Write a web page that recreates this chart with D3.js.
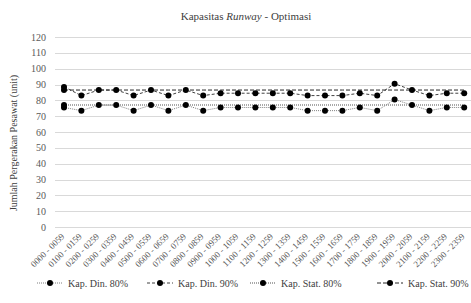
<!DOCTYPE html>
<html>
<head>
<meta charset="utf-8">
<script src="https://cdn.jsdelivr.net/npm/d3@7"></script>
<style>
  body { margin: 0; background: #fff; }
</style>
</head>
<body>
<svg width="471" height="303" font-family="'Liberation Serif', 'Times New Roman', serif"></svg>
<script>
// categories (hour slots)
const slots = ["0000 - 0059", "0100 - 0159", "0200 - 0259", "0300 - 0359", "0400 - 0459", "0500 - 0559",
    "0600 - 0659", "0700 - 0759", "0800 - 0859", "0900 - 0959", "1000 - 1059", "1100 - 1159",
    "1200 - 1259", "1300 - 1359", "1400 - 1459", "1500 - 1559", "1600 - 1659", "1700 - 1759",
    "1800 - 1859", "1900 - 1959", "2000 - 2059", "2100 - 2159", "2200 - 2259", "2300 - 2359"];

// series values
const dinamis80 = [75.5, 73.5, 77, 77, 73.5, 77, 73.5, 77, 73.5, 75.5, 75.5, 75.5,
    75.5, 75.5, 73.5, 73.5, 73.5, 75.5, 73.5, 80.5, 77, 73.5, 75.5, 75.5];
const dinamis90 = [88.5, 83, 86.5, 86.5, 83, 86.5, 83, 86.5, 83, 84.5, 84.5, 84.5,
    84.5, 84.5, 83, 83, 83, 84.5, 83, 90.5, 86.5, 83, 84.5, 84.5];
const statis80 = slots.map(() => 77);
const statis90 = slots.map(() => 86.5);

const yTicks = [0, 10, 20, 30, 40, 50, 60, 70, 80, 90, 100, 110, 120];

const series = [
    { name: "Kap. Din. 80%", values: dinamis80, color: "#7f7f7f", width: 1, dash: "1,1", allMarkers: true },
    { name: "Kap. Din. 90%", values: dinamis90, color: "#404040", width: 1, dash: "3,2", allMarkers: true },
    { name: "Kap. Stat. 80%", values: statis80, color: "#8c8c8c", width: 1.5, dash: "1,1", allMarkers: false },
    { name: "Kap. Stat. 90%", values: statis90, color: "#262626", width: 1, dash: "4,2", allMarkers: false }
];

const svg = d3.select("svg");
const plotLeft = 55.3, plotTop = 37, plotBottom = 227;

const x = d3.scaleBand()
    .domain(slots)
    .range([plotLeft, plotLeft + 24 * 17.4]);

const y = d3.scaleLinear()
    .domain([0, 120])
    .range([plotBottom, plotTop]);

// gridlines
svg.append("g")
    .selectAll("line")
    .data(yTicks)
    .enter()
    .append("line")
    .attr("x1", 55)
    .attr("x2", 471)
    .attr("y1", d => Math.round(y(d)) + 0.5)
    .attr("y2", d => Math.round(y(d)) + 0.5)
    .attr("stroke", "#d9d9d9")
    .attr("stroke-width", 1);

// y axis labels
svg.append("g")
    .selectAll("text")
    .data(yTicks)
    .enter()
    .append("text")
    .attr("x", 46)
    .attr("y", d => y(d) + 3.5)
    .attr("text-anchor", "end")
    .attr("font-size", 10)
    .attr("fill", "#595959")
    .text(d => d);

// x axis labels, rotated
svg.append("g")
    .selectAll("text")
    .data(slots)
    .enter()
    .append("text")
    .attr("transform", d => `translate(${x(d) + x.bandwidth() / 2 + 1}, 237) rotate(-45)`)
    .attr("text-anchor", "end")
    .attr("font-size", 9)
    .attr("fill", "#595959")
    .text(d => d);

// title
const title = svg.append("text")
    .attr("x", 246)
    .attr("y", 20)
    .attr("text-anchor", "middle")
    .attr("font-size", 11)
    .attr("fill", "#404040");
title.append("tspan").text("Kapasitas ");
title.append("tspan").attr("font-style", "italic").text("Runway");
title.append("tspan").text(" - Optimasi");

// y axis title
svg.append("text")
    .attr("transform", "translate(17, 143) rotate(-90)")
    .attr("text-anchor", "middle")
    .attr("font-size", 10)
    .attr("fill", "#404040")
    .text("Jumlah Pergerakan Pesawat (unit)");

const line = d3.line()
    .x((d, i) => x(slots[i]) + x.bandwidth() / 2)
    .y(d => y(d));

const plot = svg.append("g");

series.forEach(s => {
    plot.append("path")
        .datum(s.values)
        .attr("d", line)
        .attr("fill", "none")
        .attr("stroke", s.color)
        .attr("stroke-width", s.width)
        .attr("stroke-dasharray", s.dash);
});

series.forEach(s => {
    const pts = s.allMarkers ? s.values : s.values.slice(0, 1);
    plot.selectAll(null)
        .data(pts)
        .enter()
        .append("circle")
        .attr("cx", (d, i) => x(slots[i]) + x.bandwidth() / 2)
        .attr("cy", d => y(d))
        .attr("r", 3)
        .attr("fill", "#000");
});

// legend
const legendX = [37, 147, 250, 377];
const legend = svg.append("g")
    .selectAll("g")
    .data(series)
    .enter()
    .append("g")
    .attr("transform", (d, i) => `translate(${legendX[i]}, 283)`);

legend.append("line")
    .attr("x1", 0)
    .attr("x2", 26)
    .attr("stroke", d => d.color)
    .attr("stroke-width", d => d.width)
    .attr("stroke-dasharray", d => d.dash);

legend.append("circle")
    .attr("cx", 13)
    .attr("r", 3)
    .attr("fill", "#000");

legend.append("text")
    .attr("x", 31)
    .attr("y", 3.5)
    .attr("font-size", 10)
    .attr("fill", "#404040")
    .text(d => d.name);
</script>
</body>
</html>
